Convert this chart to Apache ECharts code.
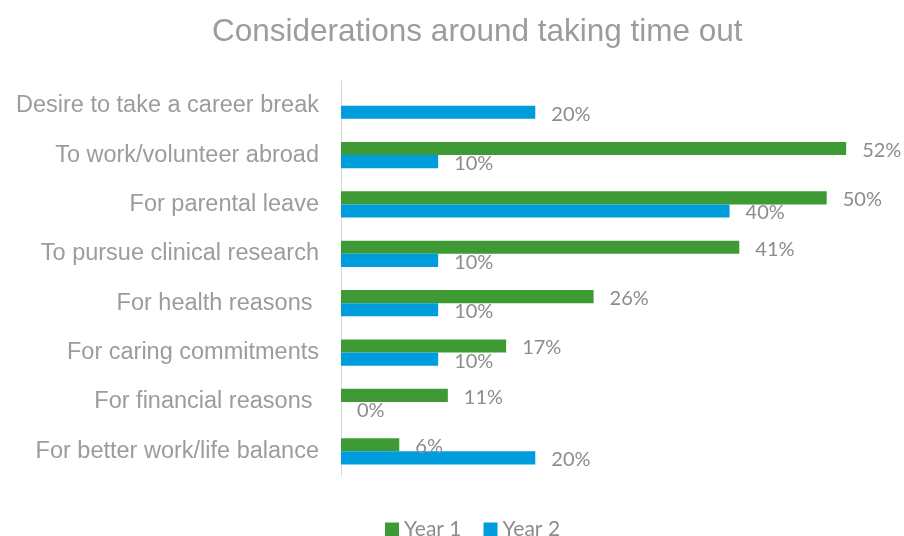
<!DOCTYPE html>
<html>
<head>
<meta charset="utf-8">
<script src="https://cdn.jsdelivr.net/npm/echarts@6/dist/echarts.min.js"></script>
<style>
  html, body { margin: 0; padding: 0; background: #ffffff; }
  #chart { width: 904px; height: 536px; }
</style>
</head>
<body>
<div id="chart"></div>
<script>
// Reasons for taking time out, listed top to bottom
const categories = [
  'Desire to take a career break',
  'To work/volunteer abroad',
  'For parental leave',
  'To pursue clinical research',
  'For health reasons ',
  'For caring commitments',
  'For financial reasons ',
  'For better work/life balance'
];
// Percentage of respondents (null = no response recorded)
const year1Values = [null, 52, 50, 41, 26, 17, 11, 6];
const year2Values = [20, 10, 40, 10, 10, 10, 0, 20];
const seriesNames = ['Year 1', 'Year 2'];

const labelStyle = {
  show: true,
  position: 'right',
  distance: 16,
  offset: [0, 2],
  color: '#8c8c8c',
  fontSize: 20,
  fontFamily: 'Lato, "Open Sans", sans-serif',
  formatter: p => p.value + '%'
};

const chart = echarts.init(document.getElementById('chart'), null, { renderer: 'canvas' });
chart.setOption({
  animation: false,
  backgroundColor: '#ffffff',
  title: {
    text: 'Considerations around taking time out',
    left: 207,
    top: 11,
    textStyle: {
      color: '#9a9ca0',
      fontSize: 31.5,
      fontWeight: 'normal',
      fontFamily: '"Liberation Sans", Arial, sans-serif'
    }
  },
  legend: {
    top: 514,
    left: 380,
    itemWidth: 14,
    itemHeight: 14,
    itemGap: 22,
    icon: 'rect',
    textStyle: {
      color: '#8c8c8c',
      fontSize: 21,
      fontFamily: 'Lato, "Open Sans", sans-serif'
    },
    data: seriesNames
  },
  grid: {
    left: 341,
    right: 19,
    top: 81,
    bottom: 60,
    containLabel: false
  },
  xAxis: {
    type: 'value',
    min: 0,
    max: 56,
    show: false,
    splitLine: { show: false }
  },
  yAxis: {
    type: 'category',
    data: categories,
    inverse: true,
    axisLine: { show: true, lineStyle: { color: '#d9d9d9', width: 1 } },
    axisTick: { show: false },
    axisLabel: {
      margin: 22,
      color: '#9a9ca0',
      fontSize: 23.5,
      fontFamily: '"Liberation Sans", Arial, sans-serif'
    }
  },
  series: [
    {
      name: seriesNames[0],
      type: 'bar',
      data: year1Values,
      itemStyle: { color: '#3e9a35' },
      barGap: '0%',
      barCategoryGap: '47%',
      label: labelStyle
    },
    {
      name: seriesNames[1],
      type: 'bar',
      data: year2Values,
      itemStyle: { color: '#009ddd' },
      barGap: '0%',
      barCategoryGap: '47%',
      label: labelStyle
    }
  ]
});
</script>
</body>
</html>
